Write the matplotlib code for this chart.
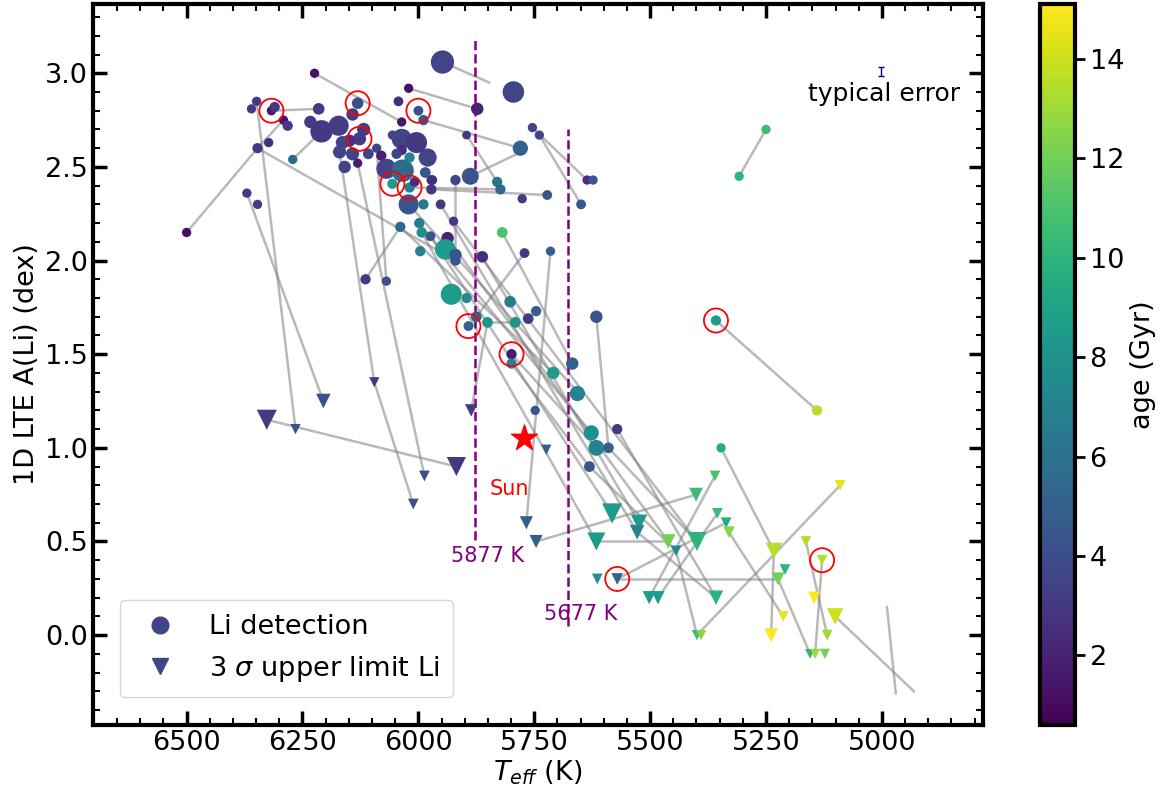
import matplotlib
matplotlib.use('Agg')
import matplotlib.pyplot as plt
from matplotlib.lines import Line2D
from matplotlib.ticker import MultipleLocator

# ---------------- data ----------------
det_teff = [6500, 6349, 6360, 6317, 6310, 6291, 6282, 6215, 6347, 6323,
            6271, 6370, 6347, 6233, 6209, 6172, 6224, 6131, 6142, 6127,
            6149, 6118, 6164, 6170, 6142, 6159, 6131, 6108, 6090, 6080,
            6069, 6034, 6056, 6019, 6021, 5989, 5998, 5993, 6039, 6056,
            6036, 6004, 6036, 6047, 5980, 6019, 5985, 5972, 6008, 5972,
            5970, 5952, 5920, 5888, 5924, 5937, 5974, 6021, 6043, 6036,
            6000, 5989, 5896, 5873, 5948, 5795, 5754, 5739, 5780, 5830,
            5823, 5636, 5623, 5722, 5776, 5649, 5819, 5942, 5996, 5920,
            5920, 5862, 5771, 5715, 6069, 6114, 5929, 5896, 5875, 5892,
            5851, 5791, 5802, 5746, 5763, 5616, 5799, 5799, 5668, 5709,
            5657, 5571, 5627, 5616, 5590, 5631, 5748, 5358, 5140, 5347,
            5250, 5308]
det_li = [2.15, 2.85, 2.81, 2.80, 2.82, 2.75, 2.72, 2.81, 2.60, 2.63,
          2.54, 2.36, 2.30, 2.74, 2.69, 2.72, 3.00, 2.84, 2.78, 2.65,
          2.64, 2.70, 2.63, 2.58, 2.57, 2.50, 2.52, 2.57, 2.60, 2.56,
          2.49, 2.48, 2.41, 2.39, 2.30, 2.30, 2.20, 2.15, 2.18, 2.67,
          2.65, 2.63, 2.59, 2.57, 2.55, 2.55, 2.47, 2.43, 2.42, 2.38,
          2.43, 2.30, 2.43, 2.45, 2.21, 2.12, 2.13, 2.92, 2.85, 2.74,
          2.80, 2.75, 2.67, 2.81, 3.06, 2.90, 2.71, 2.67, 2.60, 2.42,
          2.38, 2.43, 2.43, 2.35, 2.33, 2.30, 2.15, 2.06, 2.05, 2.03,
          2.00, 2.02, 2.04, 2.05, 1.89, 1.90, 1.82, 1.80, 1.70, 1.65,
          1.67, 1.67, 1.78, 1.73, 1.69, 1.70, 1.50, 1.45, 1.45, 1.40,
          1.29, 1.10, 1.08, 1.00, 1.00, 0.90, 1.20, 1.68, 1.20, 1.00,
          2.70, 2.45]
det_age = [1.2, 3.0, 3.0, 1.3, 3.0, 1.3, 3.0, 3.0, 3.0, 2.5,
           5.5, 3.0, 3.0, 3.0, 3.0, 3.2, 1.3, 4.0, 3.2, 3.0,
           2.5, 3.0, 3.5, 3.5, 3.5, 3.5, 1.8, 3.5, 3.5, 2.0,
           3.5, 5.5, 8.5, 7.0, 4.5, 6.5, 6.5, 8.0, 5.5, 3.5,
           3.5, 3.0, 2.5, 3.5, 3.5, 7.0, 4.5, 2.5, 2.5, 3.0,
           2.5, 3.0, 3.5, 4.5, 3.0, 2.0, 4.5, 1.3, 2.5, 1.5,
           4.0, 4.5, 3.0, 2.0, 3.5, 3.5, 3.5, 3.5, 5.0, 6.0,
           5.5, 2.5, 4.5, 4.5, 3.0, 4.5, 11.0, 8.5, 7.0, 4.5,
           4.5, 2.5, 3.0, 5.0, 4.0, 3.0, 8.5, 7.5, 5.0, 5.0,
           8.0, 8.0, 6.5, 5.0, 3.0, 4.5, 1.7, 7.0, 5.0, 8.5,
           7.0, 3.0, 8.0, 7.0, 5.0, 4.5, 4.5, 8.5, 13.5, 9.5,
           10.5, 10.0]
det_size = [45, 45, 45, 45, 55, 45, 55, 70, 55, 45,
            45, 45, 45, 80, 260, 210, 45, 70, 80, 90,
            80, 90, 90, 90, 90, 80, 45, 60, 45, 55,
            210, 260, 55, 55, 210, 55, 55, 55, 55, 45,
            210, 230, 55, 55, 170, 55, 60, 50, 50, 55,
            50, 50, 55, 150, 45, 80, 50, 45, 50, 45,
            50, 55, 40, 80, 280, 240, 45, 45, 120, 55,
            55, 45, 45, 50, 45, 50, 60, 220, 55, 80,
            55, 70, 50, 45, 45, 55, 230, 55, 60, 50,
            60, 60, 70, 55, 60, 80, 55, 55, 80, 80,
            120, 55, 120, 130, 60, 60, 45, 55, 55, 45,
            45, 45]

lim_teff = [6327, 6265, 6205, 6095, 5987, 6011, 5918, 5886, 5724, 5767,
            5746, 5360, 5401, 5582, 5524, 5528, 5616, 5461, 5399, 5444,
            5355, 5336, 5330, 5233, 5090, 5164, 5129, 5209, 5224, 5614,
            5571, 5502, 5483, 5358, 5146, 5213, 5239, 5101, 5118, 5155,
            5144, 5123, 5399, 5390]
lim_li = [1.15, 1.10, 1.25, 1.35, 0.85, 0.70, 0.90, 1.20, 0.99, 0.60,
          0.50, 0.85, 0.75, 0.65, 0.60, 0.55, 0.50, 0.50, 0.50, 0.45,
          0.65, 0.60, 0.55, 0.45, 0.80, 0.50, 0.40, 0.35, 0.30, 0.30,
          0.30, 0.20, 0.20, 0.20, 0.20, 0.10, 0.00, 0.10, 0.00, -0.10,
          -0.10, -0.10, 0.00, 0.00]
lim_age = [3.0, 4.0, 4.0, 3.0, 4.0, 4.0, 3.0, 3.0, 5.0, 5.0,
           5.0, 11.0, 10.5, 8.5, 8.5, 7.0, 8.5, 12.0, 10.0, 7.5,
           10.5, 9.5, 12.5, 13.5, 14.5, 13.5, 13.5, 10.0, 12.0, 8.0,
           5.0, 8.5, 8.5, 10.0, 15.0, 14.5, 15.0, 14.0, 13.0, 10.0,
           13.0, 12.0, 10.5, 12.5]
lim_size = [210, 55, 110, 55, 60, 60, 190, 80, 55, 90,
            90, 60, 100, 210, 140, 110, 170, 110, 190, 60,
            60, 60, 70, 140, 60, 60, 60, 60, 90, 60,
            70, 90, 90, 110, 80, 60, 100, 140, 60, 50,
            55, 55, 55, 55]

# connecting segments: start (Teff, A) -> end (Teff, A)
seg_teff1 = [6500, 6349, 6370, 6347, 6317, 6291, 6209, 6224, 6021, 5948,
             5989, 6019, 5888, 5972, 5920, 5896, 5739, 5754, 5715, 5771,
             5851, 5819, 5799, 5799, 6021, 5998, 6039, 5974, 5862, 6114,
             6069, 6170, 6131, 6095, 6327, 5616, 5358, 5347, 5090, 5233,
             5164, 5129, 5224, 5101, 4989, 5330, 5401, 5360, 5355, 5571,
             5571, 5616, 5528, 5571, 5590, 5631, 5444, 5886, 5952, 5924,
             5937, 5993, 5250]
seg_li1 = [2.15, 2.85, 2.36, 2.60, 2.80, 2.75, 2.69, 3.00, 2.92, 3.06,
           2.75, 2.39, 2.45, 2.38, 2.43, 2.67, 2.67, 2.71, 2.05, 2.04,
           1.67, 2.15, 1.50, 1.45, 2.30, 2.20, 2.18, 2.13, 2.02, 1.90,
           1.89, 2.58, 2.52, 1.35, 1.15, 1.70, 1.68, 1.00, 0.80, 0.45,
           0.50, 0.40, 0.30, 0.10, 0.15, 0.55, 0.75, 0.85, 0.65, 0.30,
           0.30, 0.50, 0.55, 1.10, 1.00, 0.90, 0.45, 1.20, 2.30, 2.21,
           2.12, 2.15, 2.70]
seg_teff2 = [6347, 6265, 6205, 5920, 6215, 6347, 6271, 6036, 5873, 5847,
             5780, 5823, 5778, 5722, 5920, 5830, 5649, 5636, 5767, 5875,
             5791, 5668, 5616, 5631, 5657, 5627, 5709, 5582, 5524, 6039,
             6090, 6095, 5987, 6011, 5918, 5590, 5140, 5233, 5399, 5239,
             5118, 5144, 5155, 4931, 4970, 5213, 5746, 5502, 5483, 5336,
             5224, 5461, 5358, 5358, 5399, 5444, 5399, 5851, 5528, 5399,
             5461, 5616, 5308]
seg_li2 = [2.60, 1.10, 1.25, 2.00, 2.81, 2.60, 2.54, 2.74, 2.81, 2.95,
           2.60, 2.38, 2.58, 2.35, 2.03, 2.42, 2.30, 2.43, 0.60, 1.70,
           1.67, 1.45, 1.00, 0.90, 1.30, 1.08, 1.40, 0.65, 0.60, 2.18,
           2.60, 1.35, 0.85, 0.70, 0.90, 1.00, 1.20, 0.45, 0.00, 0.00,
           0.00, -0.10, -0.10, -0.30, -0.31, 0.10, 0.50, 0.20, 0.20, 0.60,
           0.30, 0.50, 0.20, 0.20, 0.50, 0.45, 0.00, 1.67, 0.55, 0.50,
           0.50, 0.50, 2.45]

# highlighted stars (red open circles)
hl_teff = [6317, 6131, 6000, 6127, 6056, 6019, 5892, 5799, 5358, 5571, 5129]
hl_li = [2.80, 2.84, 2.80, 2.65, 2.41, 2.39, 1.65, 1.50, 1.68, 0.30, 0.40]

sun_teff, sun_li = 5772, 1.05
vlines_teff = [5877, 5677]
vlines_lo = [0.51, 0.05]
vlines_hi = [3.19, 2.70]
vline_labels = ['5877 K', '5677 K']
vline_label_pos = [(5850, 0.42), (5650, 0.115)]

err_teff, err_li, err_size = 5002, 3.01, 0.025

# ---------------- figure ----------------
fig = plt.figure(figsize=(11.71, 7.95), dpi=100)
ax = fig.add_axes([0.0794, 0.088, 0.760, 0.907])

for t1, a1, t2, a2 in zip(seg_teff1, seg_li1, seg_teff2, seg_li2):
    ax.plot([t1, t2], [a1, a2], color='gray', alpha=0.55, lw=1.8, zorder=1)

vmin, vmax = 0.6, 15.1
sc = ax.scatter(det_teff, det_li, c=det_age, s=det_size, cmap='viridis',
                vmin=vmin, vmax=vmax, marker='o', linewidths=0, zorder=3)
ax.scatter(lim_teff, lim_li, c=lim_age, s=lim_size, cmap='viridis',
           vmin=vmin, vmax=vmax, marker='v', linewidths=0, zorder=3)
ax.scatter(hl_teff, hl_li, s=300, facecolors='none', edgecolors='red',
           linewidths=1.3, zorder=4)
ax.scatter([sun_teff], [sun_li], marker='*', s=380, color='red', zorder=5)
ax.text(5804, 0.78, 'Sun', color='red', fontsize=15, ha='center', va='center')

for t, lo, hi, lab, pos in zip(vlines_teff, vlines_lo, vlines_hi,
                                vline_labels, vline_label_pos):
    ax.plot([t, t], [lo, hi], ls='--', color='purple', lw=1.8, zorder=2)
    ax.text(pos[0], pos[1], lab, color='purple', fontsize=15,
            ha='center', va='center')

ax.errorbar([err_teff], [err_li], yerr=[err_size], fmt='none',
            ecolor='darkblue', capsize=2.5, elinewidth=1, capthick=1)
ax.text(4995, 2.89, 'typical error', fontsize=18, ha='center', va='center')

ax.set_xlim(6702, 4782)
ax.set_ylim(-0.48, 3.37)
ax.xaxis.set_major_locator(MultipleLocator(250))
ax.xaxis.set_minor_locator(MultipleLocator(50))
ax.yaxis.set_major_locator(MultipleLocator(0.5))
ax.yaxis.set_minor_locator(MultipleLocator(0.1))
ax.tick_params(which='both', direction='in', top=True, right=True,
               labelsize=19.5)
ax.tick_params(which='major', length=10, width=2.5)
ax.tick_params(which='minor', length=5, width=1.5)
for sp in ax.spines.values():
    sp.set_linewidth(3)
ax.set_xlabel(r'$T_{eff}$ (K)', fontsize=19.5, labelpad=2)
ax.set_ylabel('1D LTE A(Li) (dex)', fontsize=19.5)

leg_color = plt.get_cmap('viridis')((3.5 - vmin) / (vmax - vmin))
handles = [Line2D([], [], marker='o', ls='none', color=leg_color, markersize=12),
           Line2D([], [], marker='v', ls='none', color=leg_color, markersize=12)]
ax.legend(handles, ['Li detection', r'3 $\sigma$ upper limit Li'],
          loc='lower left', fontsize=19.5, borderpad=0.5,
          bbox_to_anchor=(0.015, 0.02))

cax = fig.add_axes([0.888, 0.088, 0.030, 0.907])
cb = fig.colorbar(sc, cax=cax)
cb.outline.set_linewidth(3)
cb.set_ticks([2, 4, 6, 8, 10, 12, 14])
cb.ax.tick_params(labelsize=19.5, length=7, width=2)
cb.set_label('age (Gyr)', fontsize=19.5)

fig.savefig('out.png', dpi=100)
